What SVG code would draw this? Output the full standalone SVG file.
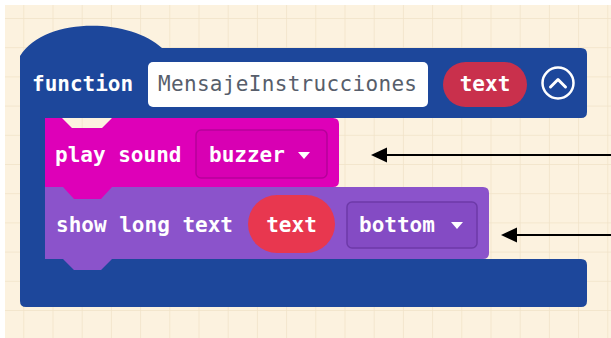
<svg xmlns="http://www.w3.org/2000/svg" width="611" height="338" viewBox="0 0 611 338">
<style>
.mono{font-family:"DejaVu Sans Mono","Liberation Mono",monospace;font-size:21px;}
.lbl{fill:#ffffff;font-weight:bold;}
.conn{stroke:#000;stroke-width:2;fill:none;}
.head{fill:#000;}
</style>
<defs>
<pattern id="grid" x="23.3" y="18" width="29.2" height="29.2" patternUnits="userSpaceOnUse">
<rect width="29.2" height="29.2" fill="#fcf2df"/>
<path d="M0,0 L0,29.2 M0,0 L29.2,0" stroke="#f1e3c8" stroke-width="1.5"/>
</pattern>
</defs>
<rect width="611" height="338" fill="#ffffff"/>
<rect x="5" y="5" width="606" height="333" fill="url(#grid)"/>

<g id="function-block">
<path d="M20,56 C45,16 130,18 162,48 L581,48 Q587,48 587,54 L587,112 Q587,118 581,118 L45,118 L45,259 L581,259 Q587,259 587,265 L587,301 Q587,307 581,307 L26,307 Q20,307 20,301 Z" fill="#1d479b"/>
<text x="32" y="91" class="mono lbl">function</text>
<rect x="148" y="62" width="280" height="45" rx="5" fill="#ffffff"/>
<text x="158" y="91" class="mono" fill="#575e6b" textLength="259">MensajeInstrucciones</text>
<rect x="443" y="62" width="84" height="45" rx="22.5" fill="#c9304c"/>
<text x="485" y="91" class="mono lbl" text-anchor="middle">text</text>
<circle cx="558" cy="83" r="15.5" fill="none" stroke="#ffffff" stroke-width="2.5"/>
<path d="M550.5,87 L558,79.5 L565.5,87" fill="none" stroke="#ffffff" stroke-width="3" stroke-linecap="round" stroke-linejoin="round"/>
</g>

<g id="show-long-text">
<path d="M45,187 L483,187 Q489,187 489,193 L489,253 Q489,259 483,259 L112,259 L101,270 L74,270 L63,259 L45,259 Z" fill="#8b53cb"/>
<text x="56" y="232" class="mono lbl">show long text</text>
<rect x="248" y="195" width="87" height="58" rx="29" fill="#e8374f"/>
<text x="291.5" y="232" class="mono lbl" text-anchor="middle">text</text>
<rect x="347" y="202" width="130" height="46" rx="5" fill="#844bc4" stroke="#6d3aa8" stroke-width="1.5"/>
<text x="359" y="232" class="mono lbl">bottom</text>
<path d="M451,222 L463,222 L457,229 Z" fill="#ffffff"/>
</g>

<g id="play-sound">
<path d="M45,118 L62,118 L72,128 L102,128 L112,118 L333,118 Q339,118 339,124 L339,181 Q339,187 333,187 L112,187 L101,199 L74,199 L63,187 L45,187 Z" fill="#de00b8"/>
<text x="55" y="162" class="mono lbl">play sound</text>
<rect x="196" y="130" width="131" height="48" rx="5" fill="#d800b3" stroke="#b6009a" stroke-width="1.5"/>
<text x="209" y="162" class="mono lbl">buzzer</text>
<path d="M298,152 L310,152 L304,159 Z" fill="#ffffff"/>
</g>

<g id="connectors">
<line x1="611" y1="155" x2="384" y2="155" class="conn"/>
<path d="M371,155 L387,147.5 L387,162.5 Z" class="head"/>
<line x1="611" y1="235" x2="514" y2="235" class="conn"/>
<path d="M501,235 L517,227.5 L517,242.5 Z" class="head"/>
</g>
</svg>
